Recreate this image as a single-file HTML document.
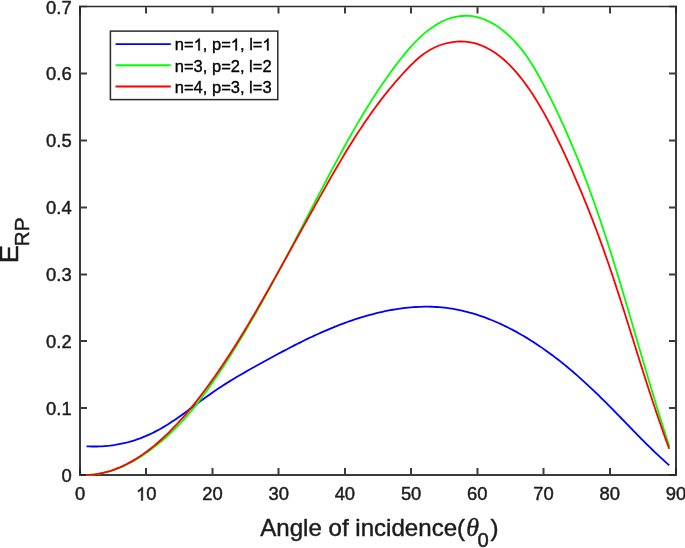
<!DOCTYPE html>
<html><head><meta charset="utf-8"><title>chart</title>
<style>
html,body{margin:0;padding:0;background:#fff;}
text{stroke:#1c1c1c;stroke-width:0.45px;stroke-linejoin:round;}
svg{display:block;font-family:"Liberation Sans",sans-serif;will-change:transform;transform:translateZ(0);}
</style></head>
<body>
<svg width="685" height="548" viewBox="0 0 685 548">
<rect width="685" height="548" fill="#fff"/>
<path d="M80.0,5.65 V476.0 M676.0,5.65 V476.0 M79.0,475.0 H677.0" fill="none" stroke="#262626" stroke-opacity="0.9" stroke-width="2"/>
<path d="M79.0,6.5 H677.0" fill="none" stroke="#2c2c2c" stroke-width="1.7"/>
<path d="M80.0,474.0 V468.00 M80.0,7.35 V13.60" fill="none" stroke="#262626" stroke-opacity="0.9" stroke-width="2"/>
<path d="M146.0,474.0 V468.00 M146.0,7.35 V13.60" fill="none" stroke="#262626" stroke-opacity="0.9" stroke-width="2"/>
<path d="M212.5,474.0 V468.00 M212.5,7.35 V13.60" fill="none" stroke="#262626" stroke-opacity="0.9" stroke-width="2"/>
<path d="M278.5,474.0 V468.00 M278.5,7.35 V13.60" fill="none" stroke="#262626" stroke-opacity="0.9" stroke-width="2"/>
<path d="M345.0,474.0 V468.00 M345.0,7.35 V13.60" fill="none" stroke="#262626" stroke-opacity="0.9" stroke-width="2"/>
<path d="M411.0,474.0 V468.00 M411.0,7.35 V13.60" fill="none" stroke="#262626" stroke-opacity="0.9" stroke-width="2"/>
<path d="M477.5,474.0 V468.00 M477.5,7.35 V13.60" fill="none" stroke="#262626" stroke-opacity="0.9" stroke-width="2"/>
<path d="M543.5,474.0 V468.00 M543.5,7.35 V13.60" fill="none" stroke="#262626" stroke-opacity="0.9" stroke-width="2"/>
<path d="M610.0,474.0 V468.00 M610.0,7.35 V13.60" fill="none" stroke="#262626" stroke-opacity="0.9" stroke-width="2"/>
<path d="M676.0,474.0 V468.00 M676.0,7.35 V13.60" fill="none" stroke="#262626" stroke-opacity="0.9" stroke-width="2"/>
<path d="M81.0,475.0 H87.00 M675.0,475.0 H669.00" fill="none" stroke="#262626" stroke-opacity="0.9" stroke-width="2"/>
<path d="M81.0,408.0 H87.00 M675.0,408.0 H669.00" fill="none" stroke="#262626" stroke-opacity="0.9" stroke-width="2"/>
<path d="M81.0,341.0 H87.00 M675.0,341.0 H669.00" fill="none" stroke="#262626" stroke-opacity="0.9" stroke-width="2"/>
<path d="M81.0,274.5 H87.00 M675.0,274.5 H669.00" fill="none" stroke="#262626" stroke-opacity="0.9" stroke-width="2"/>
<path d="M81.0,207.5 H87.00 M675.0,207.5 H669.00" fill="none" stroke="#262626" stroke-opacity="0.9" stroke-width="2"/>
<path d="M81.0,140.5 H87.00 M675.0,140.5 H669.00" fill="none" stroke="#262626" stroke-opacity="0.9" stroke-width="2"/>
<path d="M81.0,73.5 H87.00 M675.0,73.5 H669.00" fill="none" stroke="#262626" stroke-opacity="0.9" stroke-width="2"/>
<path d="M81.0,6.5 H87.00 M675.0,6.5 H669.00" fill="none" stroke="#262626" stroke-opacity="0.9" stroke-width="1.7"/>
<text x="80.00" y="500.4" text-anchor="middle" font-size="18.4" fill="#1c1c1c">0</text>
<text x="146.22" y="500.4" text-anchor="middle" font-size="18.4" fill="#1c1c1c"><tspan style="fill:none;stroke:none">1</tspan>0</text>
<path d="M763,0 L583,0 L583,1147 Q518,1085 412.5,1023 Q307,961 223,930 L223,1104 Q374,1175 487,1276 Q600,1377 647,1472 L763,1472 Z" transform="translate(135.99,500.40) scale(0.00898,-0.00898)" fill="#1c1c1c" stroke="#1c1c1c" stroke-width="0.45" vector-effect="non-scaling-stroke" stroke-linejoin="round"/>
<text x="212.44" y="500.4" text-anchor="middle" font-size="18.4" fill="#1c1c1c">20</text>
<text x="278.67" y="500.4" text-anchor="middle" font-size="18.4" fill="#1c1c1c">30</text>
<text x="344.89" y="500.4" text-anchor="middle" font-size="18.4" fill="#1c1c1c">40</text>
<text x="411.11" y="500.4" text-anchor="middle" font-size="18.4" fill="#1c1c1c">50</text>
<text x="477.33" y="500.4" text-anchor="middle" font-size="18.4" fill="#1c1c1c">60</text>
<text x="543.56" y="500.4" text-anchor="middle" font-size="18.4" fill="#1c1c1c">70</text>
<text x="609.78" y="500.4" text-anchor="middle" font-size="18.4" fill="#1c1c1c">80</text>
<text x="676.00" y="500.4" text-anchor="middle" font-size="18.4" fill="#1c1c1c">90</text>
<text x="71.7" y="481.90" text-anchor="end" font-size="18.4" fill="#1c1c1c">0</text>
<text x="71.7" y="414.99" text-anchor="end" font-size="18.4" fill="#1c1c1c">0.1</text>
<text x="71.7" y="348.07" text-anchor="end" font-size="18.4" fill="#1c1c1c">0.2</text>
<text x="71.7" y="281.16" text-anchor="end" font-size="18.4" fill="#1c1c1c">0.3</text>
<text x="71.7" y="214.24" text-anchor="end" font-size="18.4" fill="#1c1c1c">0.4</text>
<text x="71.7" y="147.33" text-anchor="end" font-size="18.4" fill="#1c1c1c">0.5</text>
<text x="71.7" y="80.41" text-anchor="end" font-size="18.4" fill="#1c1c1c">0.6</text>
<text x="71.7" y="13.50" text-anchor="end" font-size="18.4" fill="#1c1c1c">0.7</text>
<path d="M86.56,446.28 L89.18,446.40 L91.79,446.48 L94.41,446.50 L97.02,446.48 L99.63,446.40 L102.23,446.28 L104.83,446.10 L107.43,445.87 L110.02,445.60 L112.59,445.27 L115.16,444.90 L117.72,444.47 L120.27,443.99 L122.81,443.46 L125.33,442.88 L127.84,442.25 L130.33,441.57 L132.80,440.84 L135.26,440.06 L137.70,439.22 L140.13,438.34 L142.53,437.41 L144.92,436.43 L147.29,435.41 L149.64,434.35 L151.97,433.24 L154.28,432.09 L156.58,430.90 L158.85,429.68 L161.11,428.41 L163.35,427.12 L165.57,425.79 L167.77,424.42 L169.96,423.03 L172.13,421.61 L174.29,420.17 L176.43,418.70 L178.57,417.22 L180.69,415.72 L182.81,414.20 L184.91,412.68 L187.02,411.14 L189.11,409.59 L191.21,408.04 L193.30,406.49 L195.39,404.94 L197.48,403.39 L199.57,401.85 L201.67,400.31 L203.76,398.78 L205.87,397.26 L207.98,395.74 L210.09,394.24 L212.21,392.75 L214.34,391.27 L216.48,389.81 L218.63,388.36 L220.79,386.93 L222.96,385.52 L225.14,384.12 L227.34,382.73 L229.54,381.37 L231.75,380.01 L233.97,378.67 L236.19,377.34 L238.42,376.02 L240.66,374.71 L242.91,373.41 L245.16,372.12 L247.42,370.84 L249.68,369.56 L251.94,368.29 L254.20,367.03 L256.47,365.77 L258.74,364.51 L261.01,363.25 L263.29,362.00 L265.56,360.75 L267.83,359.50 L270.11,358.26 L272.38,357.02 L274.66,355.78 L276.94,354.55 L279.22,353.32 L281.51,352.10 L283.80,350.89 L286.09,349.68 L288.38,348.48 L290.68,347.29 L292.98,346.10 L295.28,344.92 L297.59,343.75 L299.90,342.60 L302.22,341.45 L304.54,340.31 L306.87,339.18 L309.20,338.06 L311.54,336.95 L313.88,335.86 L316.23,334.77 L318.58,333.70 L320.94,332.64 L323.31,331.60 L325.68,330.57 L328.06,329.56 L330.44,328.56 L332.84,327.57 L335.24,326.60 L337.65,325.65 L340.06,324.71 L342.49,323.79 L344.92,322.89 L347.36,322.01 L349.81,321.14 L352.27,320.29 L354.74,319.47 L357.21,318.66 L359.70,317.87 L362.20,317.10 L364.70,316.36 L367.22,315.63 L369.74,314.93 L372.27,314.26 L374.81,313.60 L377.35,312.97 L379.90,312.37 L382.46,311.79 L385.02,311.24 L387.59,310.72 L390.16,310.23 L392.74,309.76 L395.32,309.33 L397.90,308.92 L400.48,308.55 L403.07,308.21 L405.66,307.90 L408.24,307.63 L410.83,307.38 L413.42,307.18 L416.01,307.01 L418.60,306.87 L421.18,306.78 L423.77,306.72 L426.35,306.69 L428.92,306.71 L431.50,306.77 L434.07,306.87 L436.63,307.01 L439.19,307.19 L441.75,307.41 L444.30,307.68 L446.84,307.98 L449.38,308.33 L451.91,308.72 L454.43,309.15 L456.95,309.62 L459.46,310.13 L461.96,310.68 L464.46,311.26 L466.95,311.88 L469.43,312.54 L471.90,313.23 L474.37,313.96 L476.83,314.72 L479.28,315.52 L481.72,316.35 L484.15,317.21 L486.58,318.11 L488.99,319.04 L491.40,319.99 L493.80,320.98 L496.19,322.00 L498.56,323.04 L500.93,324.12 L503.29,325.22 L505.64,326.35 L507.98,327.51 L510.31,328.69 L512.63,329.90 L514.94,331.13 L517.23,332.39 L519.52,333.67 L521.79,334.97 L524.06,336.30 L526.31,337.64 L528.55,339.01 L530.78,340.40 L533.00,341.81 L535.20,343.24 L537.39,344.68 L539.57,346.15 L541.74,347.63 L543.90,349.13 L546.04,350.64 L548.17,352.17 L550.28,353.72 L552.38,355.28 L554.47,356.85 L556.55,358.44 L558.61,360.04 L560.66,361.65 L562.69,363.27 L564.71,364.91 L566.71,366.55 L568.70,368.21 L570.68,369.87 L572.65,371.55 L574.61,373.24 L576.56,374.93 L578.49,376.64 L580.42,378.35 L582.33,380.08 L584.24,381.81 L586.13,383.55 L588.02,385.30 L589.90,387.06 L591.77,388.83 L593.64,390.60 L595.50,392.39 L597.35,394.17 L599.20,395.97 L601.04,397.77 L602.87,399.58 L604.71,401.40 L606.53,403.22 L608.36,405.05 L610.18,406.89 L612.00,408.73 L613.81,410.57 L615.62,412.42 L617.44,414.28 L619.25,416.13 L621.06,418.00 L622.87,419.86 L624.68,421.73 L626.49,423.60 L628.30,425.47 L630.11,427.34 L631.93,429.21 L633.74,431.07 L635.56,432.94 L637.39,434.80 L639.21,436.66 L641.04,438.51 L642.88,440.36 L644.72,442.21 L646.56,444.04 L648.41,445.88 L650.27,447.70 L652.13,449.51 L654.00,451.32 L655.87,453.11 L657.76,454.90 L659.65,456.67 L661.55,458.43 L663.46,460.18 L665.38,461.92 L667.30,463.64 L669.24,465.34" fill="none" stroke="#0000ff" stroke-width="1.8" stroke-linejoin="round"/>
<path d="M86.37,475.01 L90.71,474.83 L95.00,474.42 L99.23,473.79 L103.41,472.97 L107.55,471.95 L111.62,470.74 L115.65,469.36 L119.62,467.81 L123.54,466.11 L127.40,464.27 L131.20,462.29 L134.95,460.18 L138.64,457.96 L142.28,455.64 L145.85,453.22 L149.37,450.71 L152.83,448.13 L156.23,445.49 L159.57,442.78 L162.85,440.02 L166.07,437.20 L169.24,434.32 L172.35,431.38 L175.40,428.39 L178.40,425.34 L181.34,422.25 L184.23,419.10 L187.06,415.90 L189.85,412.65 L192.58,409.36 L195.27,406.02 L197.92,402.65 L200.53,399.25 L203.10,395.82 L205.63,392.36 L208.14,388.89 L210.61,385.39 L213.06,381.87 L215.48,378.34 L217.88,374.79 L220.26,371.22 L222.62,367.64 L224.96,364.05 L227.28,360.45 L229.59,356.84 L231.87,353.22 L234.14,349.58 L236.39,345.94 L238.63,342.28 L240.85,338.62 L243.06,334.94 L245.25,331.26 L247.42,327.56 L249.59,323.86 L251.74,320.16 L253.87,316.44 L256.00,312.71 L258.11,308.98 L260.22,305.25 L262.31,301.50 L264.39,297.75 L266.46,293.99 L268.52,290.23 L270.57,286.47 L272.62,282.70 L274.65,278.92 L276.68,275.14 L278.70,271.36 L280.72,267.57 L282.73,263.78 L284.73,259.99 L286.73,256.20 L288.72,252.40 L290.71,248.60 L292.70,244.80 L294.68,241.00 L296.66,237.20 L298.64,233.40 L300.62,229.60 L302.59,225.80 L304.57,222.00 L306.54,218.20 L308.51,214.40 L310.49,210.60 L312.47,206.81 L314.44,203.01 L316.42,199.21 L318.41,195.42 L320.39,191.63 L322.38,187.84 L324.37,184.05 L326.37,180.26 L328.37,176.48 L330.38,172.69 L332.40,168.91 L334.42,165.13 L336.44,161.36 L338.48,157.58 L340.53,153.81 L342.58,150.05 L344.64,146.29 L346.72,142.53 L348.81,138.79 L350.92,135.05 L353.03,131.32 L355.17,127.60 L357.32,123.89 L359.49,120.19 L361.67,116.50 L363.88,112.83 L366.11,109.16 L368.36,105.52 L370.63,101.89 L372.93,98.27 L375.25,94.67 L377.59,91.09 L379.97,87.53 L382.37,83.99 L384.80,80.47 L387.25,76.96 L389.74,73.48 L392.26,70.03 L394.82,66.59 L397.40,63.18 L400.03,59.80 L402.68,56.44 L405.39,53.12 L408.15,49.84 L410.98,46.62 L413.90,43.45 L416.90,40.36 L420.01,37.35 L423.23,34.43 L426.57,31.62 L430.03,28.94 L433.61,26.44 L437.29,24.13 L441.07,22.04 L444.96,20.22 L448.95,18.68 L453.02,17.45 L457.16,16.54 L461.34,15.98 L465.54,15.76 L469.72,15.90 L473.87,16.41 L477.97,17.30 L481.99,18.53 L485.95,20.07 L489.81,21.91 L493.59,24.00 L497.26,26.32 L500.82,28.85 L504.26,31.54 L507.56,34.38 L510.73,37.34 L513.77,40.40 L516.68,43.56 L519.47,46.81 L522.14,50.15 L524.72,53.56 L527.20,57.04 L529.60,60.58 L531.91,64.19 L534.15,67.84 L536.34,71.53 L538.46,75.26 L540.54,79.03 L542.58,82.81 L544.59,86.61 L546.57,90.43 L548.53,94.25 L550.46,98.08 L552.37,101.93 L554.26,105.78 L556.12,109.64 L557.96,113.52 L559.78,117.40 L561.58,121.29 L563.35,125.19 L565.10,129.10 L566.84,133.02 L568.55,136.95 L570.24,140.89 L571.92,144.83 L573.57,148.78 L575.21,152.74 L576.83,156.71 L578.43,160.68 L580.01,164.66 L581.57,168.65 L583.12,172.65 L584.65,176.65 L586.17,180.65 L587.67,184.67 L589.15,188.69 L590.62,192.71 L592.08,196.74 L593.52,200.78 L594.94,204.82 L596.36,208.87 L597.76,212.92 L599.15,216.97 L600.52,221.03 L601.89,225.10 L603.24,229.17 L604.58,233.24 L605.91,237.31 L607.23,241.39 L608.55,245.48 L609.85,249.56 L611.14,253.65 L612.42,257.74 L613.70,261.83 L614.97,265.93 L616.23,270.03 L617.48,274.13 L618.73,278.23 L619.97,282.33 L621.20,286.44 L622.43,290.55 L623.66,294.66 L624.88,298.77 L626.10,302.88 L627.31,306.99 L628.52,311.11 L629.72,315.22 L630.93,319.34 L632.13,323.45 L633.33,327.57 L634.53,331.68 L635.73,335.80 L636.93,339.92 L638.13,344.04 L639.33,348.15 L640.53,352.27 L641.74,356.38 L642.94,360.50 L644.15,364.61 L645.36,368.73 L646.57,372.84 L647.79,376.95 L649.01,381.06 L650.23,385.17 L651.46,389.27 L652.70,393.38 L653.94,397.48 L655.18,401.58 L656.44,405.68 L657.70,409.78 L658.97,413.87 L660.24,417.96 L661.52,422.05 L662.82,426.14 L664.12,430.22 L665.43,434.30 L666.75,438.38 L668.08,442.45 L669.42,446.52" fill="none" stroke="#00ff00" stroke-width="1.8" stroke-linejoin="round"/>
<path d="M86.37,474.91 L90.54,474.72 L94.67,474.32 L98.74,473.71 L102.76,472.92 L106.73,471.93 L110.65,470.78 L114.51,469.45 L118.32,467.96 L122.07,466.33 L125.78,464.56 L129.42,462.65 L133.01,460.62 L136.54,458.47 L140.02,456.22 L143.44,453.88 L146.80,451.45 L150.10,448.93 L153.34,446.35 L156.53,443.71 L159.65,441.01 L162.72,438.25 L165.74,435.45 L168.70,432.59 L171.61,429.69 L174.48,426.74 L177.30,423.75 L180.08,420.72 L182.81,417.65 L185.51,414.55 L188.17,411.42 L190.79,408.25 L193.38,405.06 L195.94,401.84 L198.48,398.60 L200.98,395.34 L203.46,392.06 L205.92,388.76 L208.35,385.44 L210.76,382.11 L213.15,378.76 L215.52,375.40 L217.87,372.02 L220.19,368.62 L222.50,365.21 L224.78,361.79 L227.05,358.35 L229.30,354.90 L231.53,351.44 L233.75,347.97 L235.95,344.48 L238.13,340.99 L240.30,337.48 L242.46,333.97 L244.60,330.44 L246.73,326.91 L248.85,323.37 L250.95,319.82 L253.05,316.26 L255.13,312.70 L257.20,309.13 L259.27,305.56 L261.32,301.98 L263.37,298.39 L265.41,294.81 L267.44,291.22 L269.47,287.62 L271.49,284.03 L273.51,280.43 L275.52,276.83 L277.53,273.23 L279.53,269.63 L281.54,266.03 L283.54,262.43 L285.53,258.83 L287.53,255.23 L289.52,251.62 L291.52,248.02 L293.51,244.42 L295.50,240.82 L297.50,237.22 L299.49,233.62 L301.48,230.03 L303.47,226.43 L305.47,222.83 L307.46,219.23 L309.46,215.63 L311.46,212.04 L313.46,208.44 L315.47,204.85 L317.48,201.25 L319.49,197.66 L321.50,194.07 L323.52,190.48 L325.54,186.89 L327.57,183.30 L329.61,179.72 L331.65,176.14 L333.71,172.57 L335.77,169.00 L337.85,165.44 L339.94,161.89 L342.04,158.34 L344.15,154.81 L346.29,151.28 L348.43,147.77 L350.60,144.26 L352.78,140.77 L354.99,137.29 L357.21,133.83 L359.45,130.38 L361.72,126.94 L364.01,123.52 L366.33,120.12 L368.67,116.74 L371.04,113.37 L373.43,110.03 L375.86,106.70 L378.31,103.40 L380.80,100.11 L383.31,96.85 L385.86,93.62 L388.45,90.40 L391.06,87.21 L393.72,84.05 L396.41,80.91 L399.13,77.81 L401.89,74.73 L404.69,71.68 L407.52,68.67 L410.39,65.71 L413.30,62.80 L416.30,59.99 L419.40,57.30 L422.61,54.76 L425.96,52.39 L429.43,50.22 L433.03,48.25 L436.75,46.50 L440.59,45.00 L444.54,43.75 L448.58,42.77 L452.68,42.06 L456.81,41.63 L460.95,41.49 L465.07,41.64 L469.15,42.10 L473.15,42.87 L477.08,43.93 L480.92,45.28 L484.67,46.88 L488.33,48.72 L491.89,50.77 L495.36,53.03 L498.73,55.46 L501.99,58.05 L505.14,60.77 L508.19,63.61 L511.11,66.55 L513.93,69.57 L516.64,72.67 L519.27,75.82 L521.82,79.04 L524.29,82.31 L526.70,85.62 L529.05,88.97 L531.35,92.36 L533.60,95.79 L535.80,99.25 L537.95,102.75 L540.06,106.27 L542.13,109.83 L544.16,113.41 L546.15,117.01 L548.10,120.63 L550.02,124.28 L551.92,127.95 L553.78,131.63 L555.62,135.32 L557.43,139.03 L559.23,142.75 L561.01,146.48 L562.77,150.21 L564.51,153.95 L566.24,157.70 L567.96,161.45 L569.66,165.21 L571.34,168.98 L573.01,172.75 L574.67,176.52 L576.31,180.30 L577.93,184.09 L579.55,187.88 L581.14,191.68 L582.73,195.48 L584.30,199.29 L585.85,203.11 L587.39,206.93 L588.92,210.75 L590.43,214.58 L591.93,218.42 L593.41,222.26 L594.88,226.10 L596.34,229.95 L597.78,233.81 L599.21,237.67 L600.63,241.54 L602.03,245.41 L603.42,249.28 L604.80,253.16 L606.16,257.05 L607.52,260.94 L608.86,264.83 L610.19,268.73 L611.51,272.63 L612.82,276.53 L614.12,280.44 L615.41,284.35 L616.70,288.27 L617.98,292.18 L619.25,296.10 L620.51,300.03 L621.77,303.95 L623.02,307.88 L624.27,311.80 L625.52,315.73 L626.76,319.66 L627.99,323.59 L629.23,327.53 L630.46,331.46 L631.69,335.39 L632.93,339.33 L634.16,343.26 L635.39,347.20 L636.62,351.13 L637.85,355.06 L639.09,359.00 L640.32,362.93 L641.56,366.86 L642.81,370.79 L644.05,374.72 L645.30,378.64 L646.56,382.57 L647.82,386.49 L649.09,390.41 L650.37,394.33 L651.65,398.25 L652.94,402.16 L654.24,406.07 L655.55,409.98 L656.86,413.88 L658.19,417.78 L659.53,421.67 L660.88,425.57 L662.24,429.45 L663.61,433.34 L665.00,437.21 L666.39,441.09 L667.81,444.96 L669.23,448.82" fill="none" stroke="#ff0000" stroke-width="1.8" stroke-linejoin="round"/>
<rect x="110.4" y="31.1" width="167.4" height="68.5" fill="#fff" stroke="#2a2a2a" stroke-width="1.5"/>
<path d="M115.5,44.10 H170.8" stroke="#0000ff" stroke-width="1.9"/>
<text x="174.8" y="50.40" font-size="16.5" fill="#000" style="stroke:#000;stroke-width:0.35px">n=<tspan style="fill:none;stroke:none">1</tspan>, p=<tspan style="fill:none;stroke:none">1</tspan>, l=<tspan style="fill:none;stroke:none">1</tspan></text>
<path d="M763,0 L583,0 L583,1147 Q518,1085 412.5,1023 Q307,961 223,930 L223,1104 Q374,1175 487,1276 Q600,1377 647,1472 L763,1472 Z" transform="translate(193.61,50.40) scale(0.00806,-0.00806)" fill="#000" stroke="#000" stroke-width="0.35" vector-effect="non-scaling-stroke" stroke-linejoin="round"/>
<path d="M763,0 L583,0 L583,1147 Q518,1085 412.5,1023 Q307,961 223,930 L223,1104 Q374,1175 487,1276 Q600,1377 647,1472 L763,1472 Z" transform="translate(230.77,50.40) scale(0.00806,-0.00806)" fill="#000" stroke="#000" stroke-width="0.35" vector-effect="non-scaling-stroke" stroke-linejoin="round"/>
<path d="M763,0 L583,0 L583,1147 Q518,1085 412.5,1023 Q307,961 223,930 L223,1104 Q374,1175 487,1276 Q600,1377 647,1472 L763,1472 Z" transform="translate(262.42,50.40) scale(0.00806,-0.00806)" fill="#000" stroke="#000" stroke-width="0.35" vector-effect="non-scaling-stroke" stroke-linejoin="round"/>
<path d="M115.5,65.25 H170.8" stroke="#00ff00" stroke-width="1.9"/>
<text x="174.8" y="71.60" font-size="16.5" fill="#000" style="stroke:#000;stroke-width:0.35px">n=3, p=2, l=2</text>
<path d="M115.5,86.50 H170.8" stroke="#ff0000" stroke-width="1.9"/>
<text x="174.8" y="92.85" font-size="16.5" fill="#000" style="stroke:#000;stroke-width:0.35px">n=4, p=3, l=3</text>
<text x="260.2" y="536" font-size="24.1" fill="#1c1c1c">Angle of incidence(</text>
<text x="466.2" y="536" font-family="Liberation Serif" font-style="italic" font-size="26" fill="#1c1c1c">θ</text>
<text x="477.4" y="546.8" font-size="20.3" fill="#1c1c1c">0</text>
<text x="490.4" y="536" font-size="24.1" fill="#1c1c1c">)</text>
<text transform="translate(17.5,263.2) rotate(-90) scale(1.13,1.05)" font-size="24" fill="#1c1c1c">E</text>
<text transform="translate(29.0,246.2) rotate(-90)" font-size="20.6" letter-spacing="0.2" fill="#1c1c1c">RP</text>
</svg>
</body></html>
